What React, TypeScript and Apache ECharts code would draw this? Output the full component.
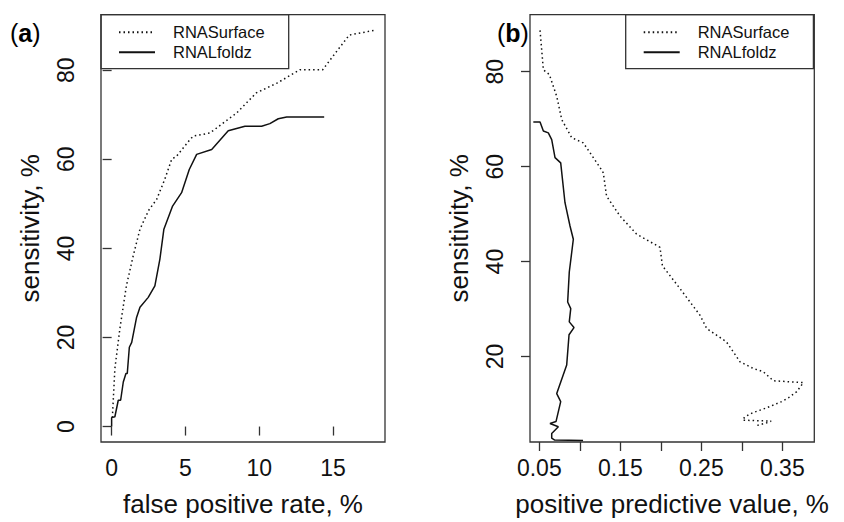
import React, { useEffect, useRef } from "react";
import * as echarts from "echarts";

// Panel (a): sensitivity vs false positive rate
const fprSurface: [number, number][] = [
  [0.05, 2], [0.22, 13], [0.56, 22], [1.0, 31.6], [1.46, 38.3], [1.92, 44.3], [2.5, 48.5], [3.05, 51],
  [3.6, 55.5], [4.07, 60], [4.4, 60.7], [5.3, 64.4], [5.53, 65.2], [6.66, 65.9], [8.47, 70.4],
  [9.8, 74.9], [11.2, 77.1], [12.76, 80.1], [14.3, 80.1], [14.8, 82.3], [16.1, 87.9], [17.9, 89],
];
const fprLfoldz: [number, number][] = [
  [0, 0], [0, 2], [0.22, 2.2], [0.45, 5.9], [0.61, 5.9], [0.79, 10], [0.97, 11.9], [1.06, 11.9],
  [1.2, 17.8], [1.36, 18.9], [1.69, 24.5], [1.92, 26.8], [2.48, 29], [2.93, 31.6], [3.27, 37.6],
  [3.54, 44.3], [4.13, 49.5], [4.74, 52.5], [5.26, 57.7], [5.76, 61.1], [6.78, 62.2], [7.9, 66.4],
  [9.03, 67.4], [10.16, 67.4], [10.72, 68], [11.29, 69.1], [11.86, 69.5], [14.4, 69.5],
];

// Panel (b): sensitivity vs positive predictive value
const ppvSurface: [number, number][] = [
  [0.0509, 88.7], [0.055, 80.4], [0.0624, 79.4], [0.0715, 74.8], [0.0777, 69.9], [0.09, 66.1],
  [0.1043, 65], [0.125, 59.8], [0.129, 58.7], [0.133, 53.8], [0.1496, 49.6], [0.17, 45.8],
  [0.199, 43], [0.202, 39.1], [0.2237, 34.3], [0.2484, 28.7], [0.2567, 25.9], [0.281, 23.1],
  [0.2978, 18.9], [0.314, 17.5], [0.3265, 16.8], [0.339, 14.9], [0.376, 14.5], [0.3678, 12.6],
  [0.3574, 11.3], [0.3492, 10.5], [0.3307, 9.2], [0.314, 8.2], [0.3037, 7.3], [0.301, 6.6],
  [0.3362, 6.4], [0.332, 6.1], [0.317, 5.4],
];
const ppvLfoldz: [number, number][] = [
  [0.0426, 69.4], [0.0509, 69.4], [0.055, 67.5], [0.0611, 67.1], [0.0653, 65.7], [0.0694, 61.9],
  [0.0764, 60.8], [0.0817, 52.4], [0.0879, 47.5], [0.092, 44.7], [0.087, 37.8], [0.085, 31.5],
  [0.0888, 30.1], [0.087, 27.3], [0.0928, 26.1], [0.0867, 24.6], [0.0838, 18.2], [0.0715, 12.2],
  [0.0764, 10.5], [0.0706, 6.3], [0.0632, 5.9], [0.0735, 5.2], [0.0653, 3.8], [0.0653, 2.8],
  [0.069, 2.4], [0.104, 2.3],
];

const seriesNames = ["RNASurface", "RNALfoldz"];
const fprTicks = [0, 5, 10, 15];
const ppvTicks = [0.05, 0.1, 0.15, 0.2, 0.25, 0.3, 0.35];
const ppvLabels = [0.05, 0.15, 0.25, 0.35];
const sensTicksA = [0, 20, 40, 60, 80];
const sensTicksB = [20, 40, 60, 80];
const xNameA = "false positive rate, %";
const xNameB = "positive predictive value, %";
const yName = "sensitivity, %";

const FONT = "'Liberation Sans', Arial, Helvetica, sans-serif";
const INK = "#111";
const BOX = "#333";
const CLEAR = "rgba(0,0,0,0)";

export default function App() {
  const ref = useRef<HTMLDivElement>(null);
  useEffect(() => {
    if (!ref.current) return;
    const chart = echarts.init(ref.current, undefined, { renderer: "svg" });

    const axisTick = { show: true, inside: false, length: 9, lineStyle: { color: BOX, width: 1.3 } };
    const tickFont = { fontFamily: FONT, fontSize: 23, color: INK };
    const nameFont = { fontFamily: FONT, fontSize: 26, color: INK };

    const xAxisBase = (idx: number) => ({
      type: "value",
      gridIndex: idx,
      splitLine: { show: false },
      axisLine: { show: false },
      nameLocation: "middle",
      nameGap: 49,
      nameTextStyle: nameFont,
    });
    const yAxisBase = (idx: number) => ({
      type: "value",
      gridIndex: idx,
      splitLine: { show: false },
      axisLine: { show: false },
      name: yName,
      nameLocation: "middle",
      nameGap: 58,
      nameTextStyle: nameFont,
    });

    const dotted = { color: INK, width: 1.5, type: [1.5, 3], cap: "butt" };
    const solid = { color: INK, width: 1.5, type: "solid" };

    const legendBase = {
      orient: "vertical",
      top: 14.7,
      itemWidth: 36,
      itemHeight: 14,
      itemGap: 3,
      padding: [9, 24, 8, 17],
      borderColor: BOX,
      borderWidth: 1.3,
      selectedMode: false,
      data: seriesNames,
      itemStyle: { color: CLEAR, borderColor: CLEAR, borderWidth: 0 },
      textStyle: { fontFamily: FONT, fontSize: 16.5, lineHeight: 16, color: INK, padding: [0, 0, 0, 13] },
    };

    chart.setOption({
      animation: false,
      backgroundColor: "#fff",
      grid: [
        { left: 101, right: 459, top: 14.7, bottom: 78.5, show: true, borderColor: BOX, borderWidth: 1.3, containLabel: false },
        { left: 530, right: 29.7, top: 14.7, bottom: 78.5, show: true, borderColor: BOX, borderWidth: 1.3, containLabel: false },
      ],
      legend: [
        { ...legendBase, left: 101 },
        { ...legendBase, left: 625.7 },
      ],
      xAxis: [
        {
          ...xAxisBase(0),
          name: xNameA,
          min: -0.72,
          max: 18.52,
          axisTick: { ...axisTick, customValues: fprTicks },
          axisLabel: { ...tickFont, margin: 14, customValues: fprTicks, formatter: (v: number) => String(v) },
        },
        {
          ...xAxisBase(1),
          name: xNameB,
          min: 0.0385,
          max: 0.3895,
          axisTick: { ...axisTick, customValues: ppvTicks },
          axisLabel: { ...tickFont, margin: 14, customValues: ppvLabels, formatter: (v: number) => v.toFixed(2) },
        },
      ],
      yAxis: [
        {
          ...yAxisBase(0),
          min: -3.47,
          max: 92.46,
          axisTick: { ...axisTick, customValues: sensTicksA },
          axisLabel: { ...tickFont, margin: 24, rotate: 90, customValues: sensTicksA, formatter: (v: number) => String(v) },
        },
        {
          ...yAxisBase(1),
          min: 2.0,
          max: 92.0,
          axisTick: { ...axisTick, customValues: sensTicksB },
          axisLabel: { ...tickFont, margin: 24, rotate: 90, customValues: sensTicksB, formatter: (v: number) => String(v) },
        },
      ],
      series: [
        { name: seriesNames[0], type: "line", xAxisIndex: 0, yAxisIndex: 0, data: fprSurface, symbol: "none", showSymbol: false, lineStyle: dotted, itemStyle: { color: INK } },
        { name: seriesNames[1], type: "line", xAxisIndex: 0, yAxisIndex: 0, data: fprLfoldz, symbol: "none", showSymbol: false, lineStyle: solid, itemStyle: { color: INK } },
        { name: seriesNames[0], type: "line", xAxisIndex: 1, yAxisIndex: 1, data: ppvSurface, symbol: "none", showSymbol: false, lineStyle: dotted, itemStyle: { color: INK } },
        { name: seriesNames[1], type: "line", xAxisIndex: 1, yAxisIndex: 1, data: ppvLfoldz, symbol: "none", showSymbol: false, lineStyle: solid, itemStyle: { color: INK } },
      ],
      graphic: [
        {
          type: "text",
          left: 10,
          top: 20,
          style: {
            text: "{n|(}{b|a}{n|)}",
            rich: {
              n: { fontFamily: FONT, fontSize: 25, color: INK },
              b: { fontFamily: FONT, fontSize: 25, fontWeight: "bold", color: INK },
            },
          },
        },
        {
          type: "text",
          left: 497,
          top: 20,
          style: {
            text: "{n|(}{b|b}{n|)}",
            rich: {
              n: { fontFamily: FONT, fontSize: 25, color: INK },
              b: { fontFamily: FONT, fontSize: 25, fontWeight: "bold", color: INK },
            },
          },
        },
      ],
    });
    return () => chart.dispose();
  }, []);
  return <div ref={ref} style={{ position: "absolute", left: 0, top: 0, width: 844, height: 522 }} />;
}
